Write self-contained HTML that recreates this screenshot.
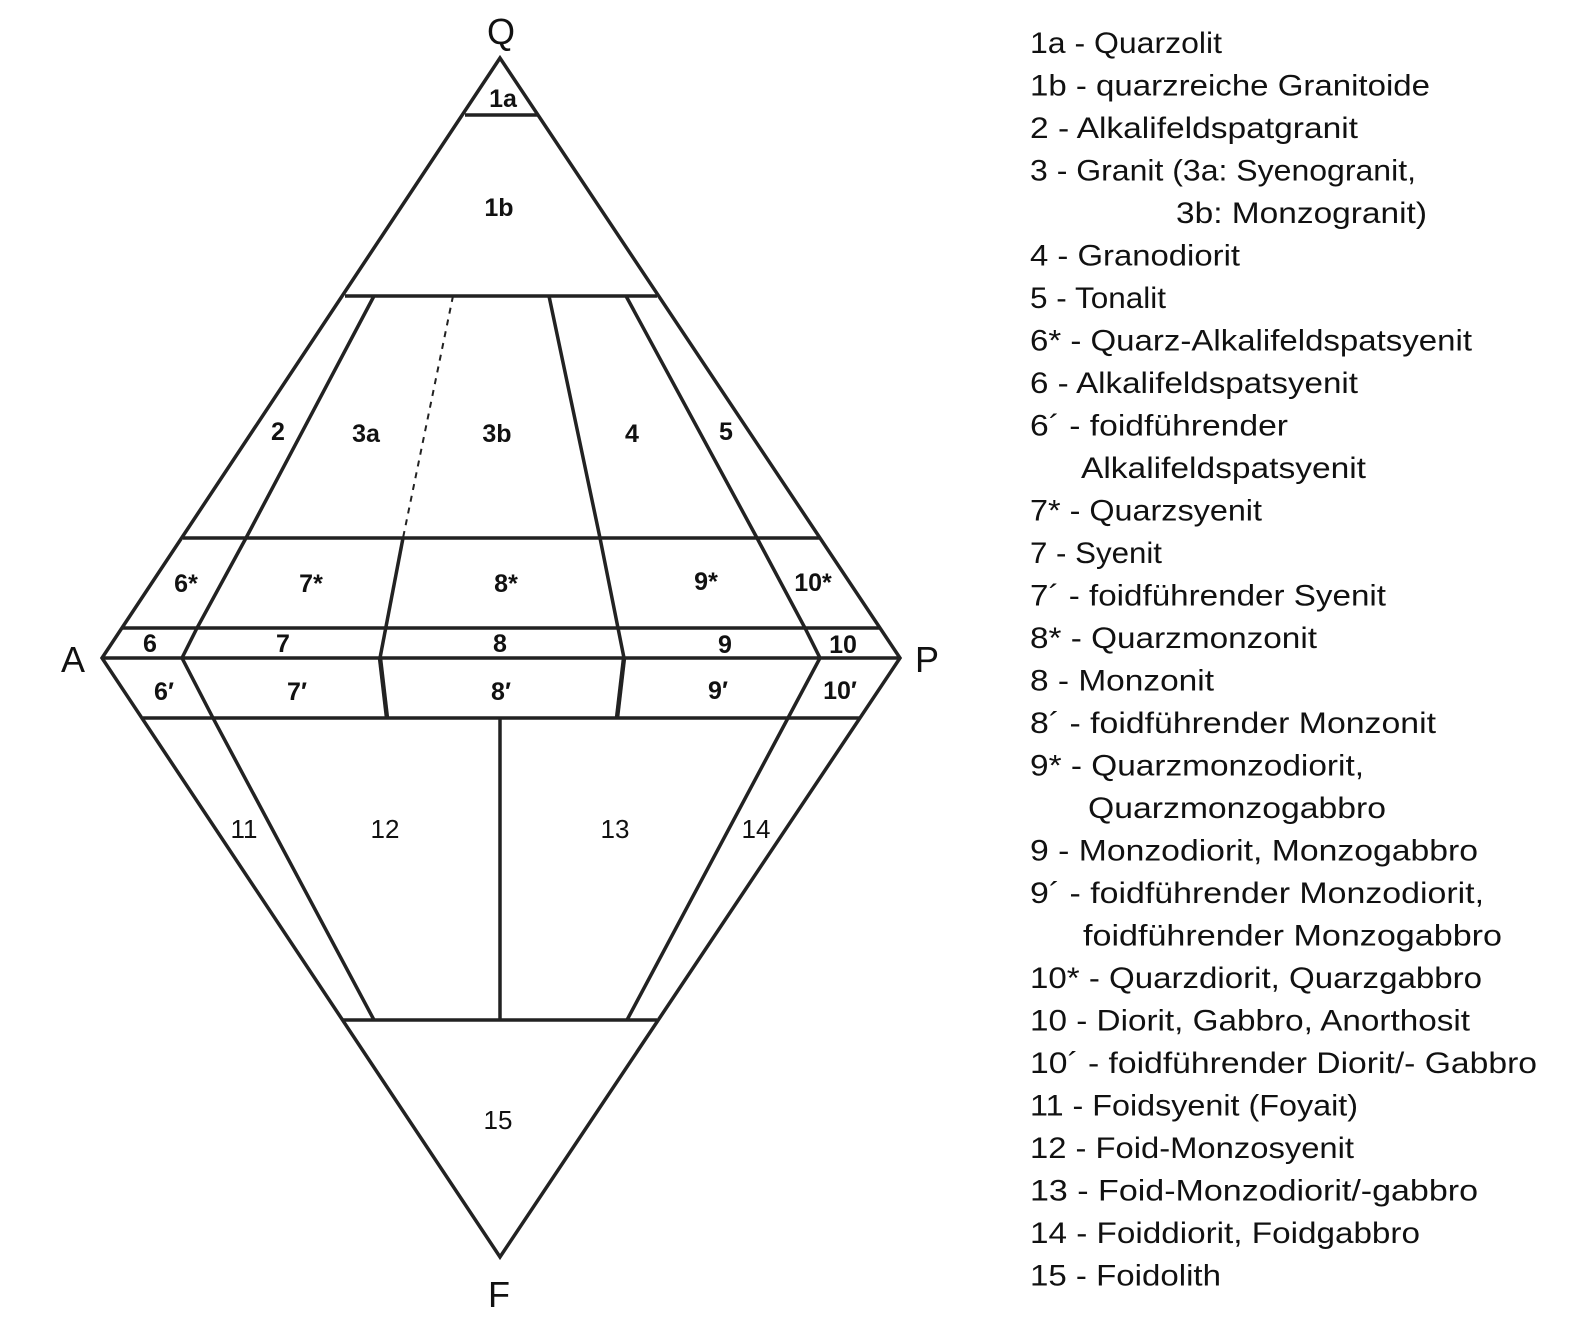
<!DOCTYPE html>
<html><head><meta charset="utf-8"><style>
html,body{margin:0;padding:0;background:#fff}
svg{display:block}
text{font-family:"Liberation Sans",sans-serif;fill:#111}
.b{font-weight:bold;font-size:25px}
.n{font-weight:normal;font-size:26px}
.l{font-size:30px}
.c{font-size:36px}
</style></head><body>
<svg width="1570" height="1330" viewBox="0 0 1570 1330" xmlns="http://www.w3.org/2000/svg">
<g stroke="#222" stroke-width="3.5" fill="none" stroke-linejoin="miter">
<polygon points="500,58 102,658 500,1257 900,658"/>
<line x1="465" y1="115" x2="538" y2="115"/>
<line x1="345" y1="296" x2="657" y2="296"/>
<line x1="183" y1="538" x2="819" y2="538"/>
<line x1="122" y1="628" x2="879" y2="628"/>
<line x1="102" y1="658" x2="900" y2="658"/>
<line x1="143" y1="718" x2="860" y2="718"/>
<line x1="343" y1="1020" x2="657" y2="1020"/>
<polyline points="374,296 246,538 197,628 182,658 213,718 374,1020"/>
<line x1="453" y1="296" x2="403" y2="538" stroke-dasharray="6,6" stroke-width="2"/>
<polyline points="403,538 380,658"/>
<line x1="380" y1="658" x2="387" y2="718" stroke-width="4.5"/>
<polyline points="549,296 600,538 618,628 624,658"/>
<line x1="624" y1="658" x2="617" y2="718" stroke-width="4.5"/>
<polyline points="626,296 757,538 805,628 820,658 788,718 627,1020"/>
<line x1="500" y1="718" x2="500" y2="1020"/>
</g>
<g class="b" text-anchor="middle">
<text x="503" y="107">1a</text>
<text x="499" y="216">1b</text>
<text x="278" y="440">2</text>
<text x="366" y="442">3a</text>
<text x="497" y="442">3b</text>
<text x="632" y="442">4</text>
<text x="726" y="440">5</text>
<text x="186" y="592">6*</text>
<text x="311" y="592">7*</text>
<text x="506" y="592">8*</text>
<text x="706" y="590">9*</text>
<text x="813" y="591">10*</text>
<text x="150" y="652">6</text>
<text x="283" y="652">7</text>
<text x="500" y="652">8</text>
<text x="725" y="653">9</text>
<text x="843" y="653">10</text>
<text x="164" y="700">6′</text>
<text x="297" y="700">7′</text>
<text x="501" y="700">8′</text>
<text x="718" y="699">9′</text>
<text x="840" y="699">10′</text>
<text class="n" x="244" y="838">11</text>
<text class="n" x="385" y="838">12</text>
<text class="n" x="615" y="838">13</text>
<text class="n" x="756" y="838">14</text>
<text class="n" x="498" y="1129">15</text>
</g>
<g class="c" text-anchor="middle">
<text x="501" y="44">Q</text>
<text x="73" y="672">A</text>
<text x="927" y="672">P</text>
<text x="499" y="1307">F</text>
</g>
<g class="l">
<text x="1030" y="53" textLength="192" lengthAdjust="spacingAndGlyphs">1a - Quarzolit</text>
<text x="1030" y="95.5" textLength="400" lengthAdjust="spacingAndGlyphs">1b - quarzreiche Granitoide</text>
<text x="1030" y="138" textLength="328" lengthAdjust="spacingAndGlyphs">2 - Alkalifeldspatgranit</text>
<text x="1030" y="180.5" textLength="386" lengthAdjust="spacingAndGlyphs">3 - Granit (3a: Syenogranit,</text>
<text x="1176" y="223" textLength="251" lengthAdjust="spacingAndGlyphs">3b: Monzogranit)</text>
<text x="1030" y="265.5" textLength="210" lengthAdjust="spacingAndGlyphs">4 - Granodiorit</text>
<text x="1030" y="308" textLength="136" lengthAdjust="spacingAndGlyphs">5 - Tonalit</text>
<text x="1030" y="350.5" textLength="442" lengthAdjust="spacingAndGlyphs">6* - Quarz-Alkalifeldspatsyenit</text>
<text x="1030" y="393" textLength="328" lengthAdjust="spacingAndGlyphs">6 - Alkalifeldspatsyenit</text>
<text x="1030" y="435.5" textLength="258" lengthAdjust="spacingAndGlyphs">6´ - foidführender</text>
<text x="1081" y="478" textLength="285" lengthAdjust="spacingAndGlyphs">Alkalifeldspatsyenit</text>
<text x="1030" y="520.5" textLength="232" lengthAdjust="spacingAndGlyphs">7* - Quarzsyenit</text>
<text x="1030" y="563" textLength="132" lengthAdjust="spacingAndGlyphs">7 - Syenit</text>
<text x="1030" y="605.5" textLength="356" lengthAdjust="spacingAndGlyphs">7´ - foidführender Syenit</text>
<text x="1030" y="648" textLength="287" lengthAdjust="spacingAndGlyphs">8* - Quarzmonzonit</text>
<text x="1030" y="690.5" textLength="184" lengthAdjust="spacingAndGlyphs">8 - Monzonit</text>
<text x="1030" y="733" textLength="406" lengthAdjust="spacingAndGlyphs">8´ - foidführender Monzonit</text>
<text x="1030" y="775.5" textLength="334" lengthAdjust="spacingAndGlyphs">9* - Quarzmonzodiorit,</text>
<text x="1088" y="818" textLength="298" lengthAdjust="spacingAndGlyphs">Quarzmonzogabbro</text>
<text x="1030" y="860.5" textLength="448" lengthAdjust="spacingAndGlyphs">9 - Monzodiorit, Monzogabbro</text>
<text x="1030" y="903" textLength="454" lengthAdjust="spacingAndGlyphs">9´ - foidführender Monzodiorit,</text>
<text x="1083" y="945.5" textLength="419" lengthAdjust="spacingAndGlyphs">foidführender Monzogabbro</text>
<text x="1030" y="988" textLength="452" lengthAdjust="spacingAndGlyphs">10* - Quarzdiorit, Quarzgabbro</text>
<text x="1030" y="1030.5" textLength="440" lengthAdjust="spacingAndGlyphs">10 - Diorit, Gabbro, Anorthosit</text>
<text x="1030" y="1073" textLength="507" lengthAdjust="spacingAndGlyphs">10´ - foidführender Diorit/- Gabbro</text>
<text x="1030" y="1115.5" textLength="328" lengthAdjust="spacingAndGlyphs">11 - Foidsyenit (Foyait)</text>
<text x="1030" y="1158" textLength="324" lengthAdjust="spacingAndGlyphs">12 - Foid-Monzosyenit</text>
<text x="1030" y="1200.5" textLength="448" lengthAdjust="spacingAndGlyphs">13 - Foid-Monzodiorit/-gabbro</text>
<text x="1030" y="1243" textLength="390" lengthAdjust="spacingAndGlyphs">14 - Foiddiorit, Foidgabbro</text>
<text x="1030" y="1285.5" textLength="191" lengthAdjust="spacingAndGlyphs">15 - Foidolith</text>
</g>
</svg>
</body></html>
